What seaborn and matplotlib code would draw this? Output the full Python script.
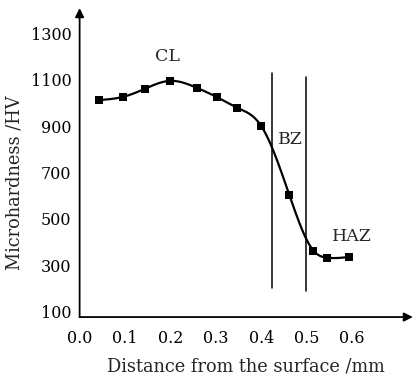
import numpy as np
import pandas as pd
import matplotlib
matplotlib.use('Agg')
import matplotlib.pyplot as plt
import seaborn as sns

# data
distance = [0.043, 0.096, 0.143, 0.200, 0.258, 0.302, 0.347, 0.400, 0.462, 0.515, 0.544, 0.594]
hardness = [1012, 1026, 1060, 1095, 1065, 1025, 979, 900, 602, 362, 332, 335]
zone_lines = [0.424, 0.4975]
zone_line_lo = [202, 188]
zone_line_hi = [1129, 1113]
zone_labels = ['CL', 'BZ', 'HAZ']
zone_label_x = [0.1925, 0.464, 0.599]
zone_label_y = [1198, 840, 422]
yticks = [100, 300, 500, 700, 900, 1100, 1300]
xticks = [0.0, 0.1, 0.2, 0.3, 0.4, 0.5, 0.6]

df = pd.DataFrame({'x': distance, 'y': hardness})


def smooth(x, y, n=400):
    # natural cubic spline through the points, only for drawing the curve
    x = np.asarray(x, float)
    y = np.asarray(y, float)
    k = len(x)
    h = np.diff(x)
    A = np.zeros((k, k))
    r = np.zeros(k)
    A[0, 0] = A[-1, -1] = 1
    for i in range(1, k - 1):
        A[i, i - 1] = h[i - 1]
        A[i, i] = 2 * (h[i - 1] + h[i])
        A[i, i + 1] = h[i]
        r[i] = 6 * ((y[i + 1] - y[i]) / h[i] - (y[i] - y[i - 1]) / h[i - 1])
    M = np.linalg.solve(A, r)
    xs = np.linspace(x[0], x[-1], n)
    j = np.clip(np.searchsorted(x, xs) - 1, 0, k - 2)
    a = x[j + 1] - xs
    b = xs - x[j]
    hj = h[j]
    ys = (M[j] * a**3 / (6 * hj) + M[j + 1] * b**3 / (6 * hj)
          + (y[j] / hj - M[j] * hj / 6) * a + (y[j + 1] / hj - M[j + 1] * hj / 6) * b)
    return pd.DataFrame({'x': xs, 'y': ys})


sns.set_style('white')
plt.rcParams['font.family'] = ['DejaVu Serif']
plt.rcParams['mathtext.fontset'] = 'dejavuserif'

fig = plt.figure(figsize=(4.14, 3.77), dpi=100)
ax = fig.add_axes([0.1923, 0.159, 0.805, 0.8196])

curve = smooth(distance, hardness)
sns.lineplot(data=curve, x='x', y='y', ax=ax, color='black', linewidth=1.6, sort=False)
sns.scatterplot(data=df, x='x', y='y', ax=ax, color='black', marker='s', s=38,
                edgecolor='black', linewidth=0, zorder=5)

for xv, lo, hi in zip(zone_lines, zone_line_lo, zone_line_hi):
    ax.plot([xv, xv], [lo, hi], color='black', linewidth=1.1)

for lab, lx, ly in zip(zone_labels, zone_label_x, zone_label_y):
    ax.text(lx, ly, lab, ha='center', va='center', fontsize=12.5)

ax.set_xlim(0, 0.734)
ax.set_ylim(75.6, 1409)
ax.set_xticks(xticks)
ax.set_xticklabels([f'{v:.1f}' for v in xticks])
ax.set_yticks(yticks)
ax.set_yticklabels([str(v) for v in yticks])
ax.tick_params(direction='in', length=7, width=1.1, labelsize=11.5, pad=6,
               colors='black')
ax.tick_params(axis='x', pad=9)
ax.set_xlabel('Distance from the surface /mm', fontsize=12.8, labelpad=8)
ax.set_ylabel('Microhardness /HV', fontsize=12.8)
ax.yaxis.set_label_coords(-0.168, 0.434)

for s in ax.spines.values():
    s.set_visible(False)
ax.annotate('', xy=(1.0, 0), xytext=(0, 0), xycoords='axes fraction',
            arrowprops=dict(arrowstyle='-|>', color='black', lw=1.3,
                            mutation_scale=13, shrinkA=0, shrinkB=0))
ax.annotate('', xy=(0, 1.0), xytext=(0, 0), xycoords='axes fraction',
            arrowprops=dict(arrowstyle='-|>', color='black', lw=1.3,
                            mutation_scale=13, shrinkA=0, shrinkB=0))

fig.savefig('out.png', dpi=100)
